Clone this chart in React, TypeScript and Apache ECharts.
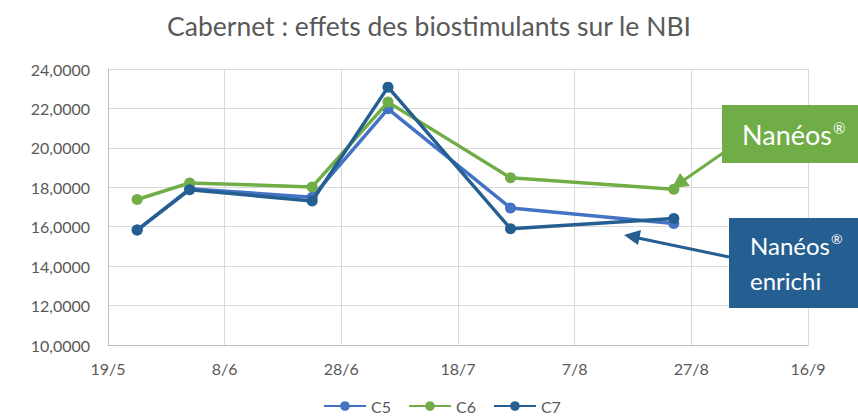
import React, { useEffect, useRef } from "react";
import * as echarts from "echarts";

const baseDate = "19/5";
const dates = ["24/5", "2/6", "23/6", "6/7", "27/7", "24/8"];
const seriesNames = ["C5", "C6", "C7"];
const c5 = [15.83, 17.92, 17.5, 21.98, 16.95, 16.16];
const c6 = [17.38, 18.22, 18.02, 22.32, 18.48, 17.9];
const c7 = [15.83, 17.88, 17.3, 23.08, 15.9, 16.42];
const colors = ["#4472C4", "#70AD47", "#255E91"];

const toUTC = (s: string) => {
  const [d, m] = s.split("/").map(Number);
  return Date.UTC(2020, m - 1, d);
};
const DAY = 86400000;
const offset = (s: string) => Math.round((toUTC(s) - toUTC(baseDate)) / DAY);

export default function App() {
  const ref = useRef<HTMLDivElement>(null);
  useEffect(() => {
    if (!ref.current) return;
    const chart = echarts.init(ref.current, null, { renderer: "svg" });
    const font = "Lato, 'Open Sans', sans-serif";
    const mk = (vals: number[]) => dates.map((d, i) => [offset(d), vals[i]]);
    const data = [c5, c6, c7];
    chart.setOption({
      animation: false,
      textStyle: { fontFamily: font },
      title: {
        text: "Cabernet : effets des biostimulants sur le NBI",
        left: "center",
        top: 7,
        textStyle: { color: "#595959", fontSize: 26.5, fontWeight: "normal", fontFamily: font },
      },
      grid: { left: 108, right: 50, top: 69, bottom: 74, containLabel: false },
      legend: {
        bottom: 0,
        left: 318,
        itemWidth: 42,
        itemHeight: 12,
        itemGap: 17,
        data: seriesNames,
        textStyle: { color: "#595959", fontSize: 16, fontFamily: font },
      },
      xAxis: {
        type: "value",
        min: 0,
        max: 120,
        interval: 20,
        axisLine: { show: true, lineStyle: { color: "#BFBFBF", width: 1 } },
        axisTick: { show: false },
        splitLine: { show: true, lineStyle: { color: "#D9D9D9", width: 1 } },
        axisLabel: {
          color: "#595959",
          fontSize: 16,
          margin: 15,
          formatter: (v: number) => {
            const dt = new Date(toUTC(baseDate) + v * DAY);
            return `${dt.getUTCDate()}/${dt.getUTCMonth() + 1}`;
          },
        },
      },
      yAxis: {
        type: "value",
        min: 10,
        max: 24,
        interval: 2,
        axisLine: { show: true, lineStyle: { color: "#BFBFBF", width: 1 } },
        axisTick: { show: false },
        splitLine: { show: true, lineStyle: { color: "#D9D9D9", width: 1 } },
        axisLabel: {
          color: "#595959",
          fontSize: 16,
          margin: 18,
          formatter: (v: number) => v.toFixed(4).replace(".", ","),
        },
      },
      series: seriesNames.map((n, i) => ({
        name: n,
        type: "line",
        data: mk(data[i]),
        symbol: "circle",
        symbolSize: 11,
        lineStyle: { color: colors[i], width: 3.5 },
        itemStyle: { color: colors[i] },
        z: 2 + i,
      })),
      graphic: [
        {
          type: "line",
          shape: { x1: 723, y1: 153, x2: 684, y2: 180 },
          style: { stroke: "#70AD47", lineWidth: 3 },
          z: 10,
        },
        {
          type: "polygon",
          shape: { points: [[672, 188], [680, 173], [690, 186]] },
          style: { fill: "#70AD47" },
          z: 10,
        },
        {
          type: "rect",
          shape: { x: 722, y: 105, width: 140, height: 58 },
          style: { fill: "#70AD47" },
          z: 10,
        },
        {
          type: "text",
          x: 742,
          y: 134,
          style: {
            text: "{a|Nanéos}{b|®}",
            fill: "#FFFFFF",
            fontFamily: font,
            verticalAlign: "middle",
            rich: {
              a: { fontSize: 27, fill: "#FFFFFF", fontFamily: font, lineHeight: 32 },
              b: { fontSize: 15, fill: "#FFFFFF", fontFamily: font, lineHeight: 32, verticalAlign: "top", padding: [2, 0, 0, 1] },
            },
          },
          z: 11,
        },
        {
          type: "line",
          shape: { x1: 729, y1: 257, x2: 638, y2: 238 },
          style: { stroke: "#255E91", lineWidth: 3 },
          z: 10,
        },
        {
          type: "polygon",
          shape: { points: [[624, 235], [641, 230], [638, 245]] },
          style: { fill: "#255E91" },
          z: 10,
        },
        {
          type: "rect",
          shape: { x: 729, y: 218, width: 135, height: 90 },
          style: { fill: "#255E91" },
          z: 10,
        },
        {
          type: "text",
          x: 750,
          y: 263,
          style: {
            text: "{a|Nanéos}{b|®}\n{a|enrichi}",
            fill: "#FFFFFF",
            fontFamily: font,
            verticalAlign: "middle",
            rich: {
              a: { fontSize: 24, fill: "#FFFFFF", fontFamily: font, lineHeight: 35 },
              b: { fontSize: 14, fill: "#FFFFFF", fontFamily: font, lineHeight: 35, verticalAlign: "top", padding: [3, 0, 0, 1] },
            },
          },
          z: 11,
        },
      ],
    });
    return () => chart.dispose();
  }, []);
  return (
    <div
      ref={ref}
      style={{ position: "absolute", left: 0, top: 0, width: 858, height: 419 }}
    />
  );
}
